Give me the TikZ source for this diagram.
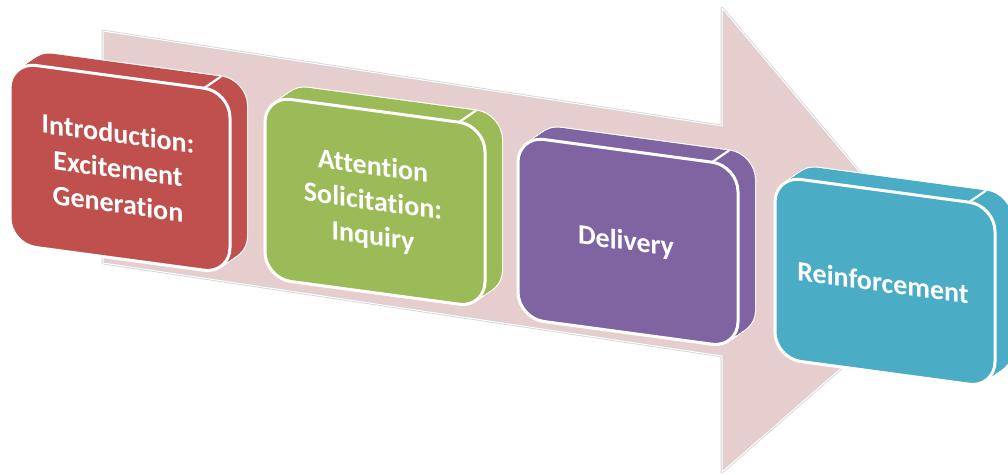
\documentclass[tikz,border=0pt]{standalone}
\usepackage{fontspec}
\setmainfont{Carlito}[Ligatures={NoCommon}]
\definecolor{arrowpink}{RGB}{230,206,207}
\definecolor{arrowedge}{RGB}{214,210,210}
\definecolor{stagered}{RGB}{192,80,77}
\definecolor{stagegreen}{RGB}{155,187,89}
\definecolor{stagepurple}{RGB}{128,100,162}
\definecolor{stageteal}{RGB}{75,172,198}

\tikzset{
  stagetext/.style={text=white, align=center, inner sep=0pt,
    font=\bfseries\fontsize{28}{35}\selectfont},
  facerim/.style={draw=white, line width=3, rounded corners=26},
}

% #1 node name, #2/#3 top-left of the front face, #4 fill colour, #5 label
\newcommand\stagebox[5]{%
  \begin{scope}[shift={(#2,-#3)}, yslant=-0.135]
    % extruded body: white silhouette first, then the fill
    \foreach \t in {0,...,20}
      \draw[white, line width=2.2, rounded corners=26]
        ({0.85*\t},{0.7*\t}) rectangle ++(220,-182);
    \foreach \t in {0,...,20}
      \fill[#4, rounded corners=26]
        ({0.85*\t},{0.7*\t}) rectangle ++(220,-182);
    % edge where the top face turns into the side face
    \draw[white, line width=2.2] (194,0) -- (211,14);
    % front face
    \filldraw[fill=#4, facerim] (0,0) rectangle (220,-182);
    \node[stagetext, transform shape] (#1) at (108,-92) {#5};
  \end{scope}}

\begin{document}
\begin{tikzpicture}[x=1pt,y=1pt]
\useasboundingbox (0,0) rectangle (1008,-474);

% large perspective arrow in the background
\path[draw=arrowedge, line width=2.6, line join=round, fill=arrowpink]
  (103,-31) -- (722,-126) -- (722,-8) -- (947,-276) -- (722,-472)
  -- (722,-356) -- (103,-263) -- cycle;
\path[draw=white, line width=1, line join=round]
  (103,-31) -- (722,-126) -- (722,-8) -- (947,-276) -- (722,-472)
  -- (722,-356) -- (103,-263) -- cycle;

\stagebox{intro}{10}{62}{stagered}{Introduction:\\Excitement\\Generation}
\stagebox{attention}{265}{96}{stagegreen}{Attention\\Solicitation:\\Inquiry}
\stagebox{delivery}{518}{136}{stagepurple}{Delivery}
\stagebox{reinforce}{775}{176}{stageteal}{Reinforcement}
\end{tikzpicture}
\end{document}
